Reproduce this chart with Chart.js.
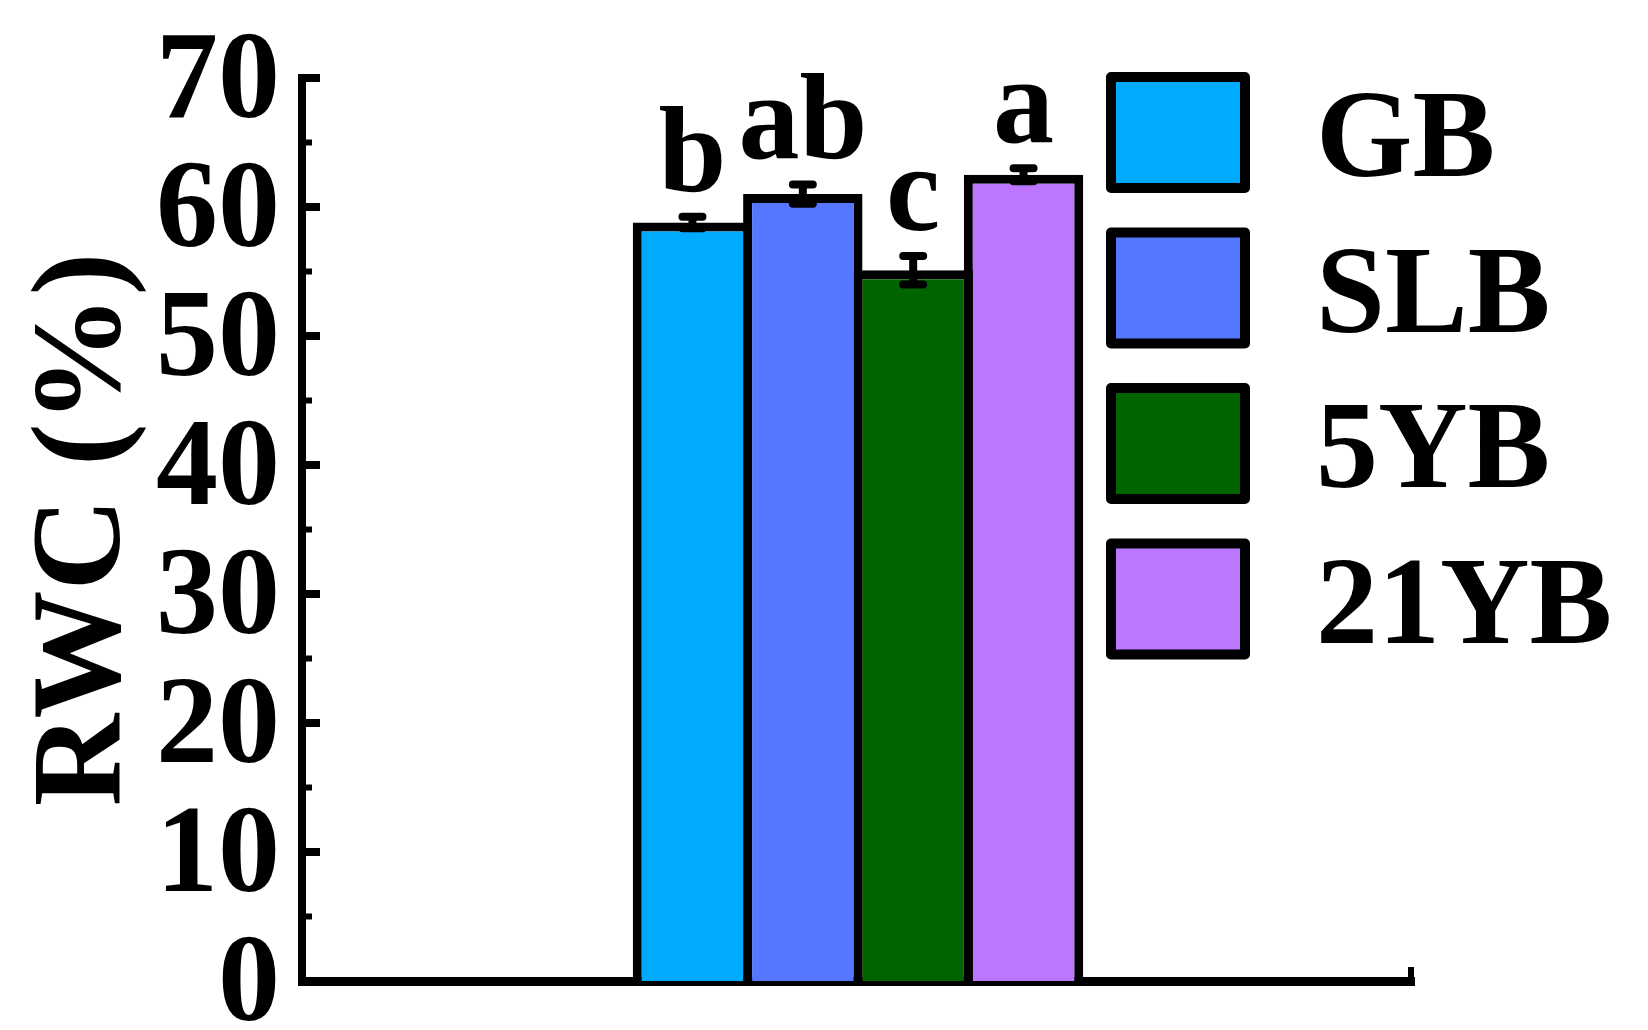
<!DOCTYPE html>
<html>
<head>
<meta charset="utf-8">
<script src="https://cdn.jsdelivr.net/npm/chart.js@4.4.1/dist/chart.umd.min.js"></script>
<style>
  html, body { margin: 0; padding: 0; background: #fff; overflow: hidden; }
  body { font-family: 'Liberation Serif'; font-weight: bold; }
  #wrap { width: 1648px; height: 1030px; position: relative; }
  #overlay { position: absolute; left: 0; top: 0; pointer-events: none; z-index: 1; }
</style>
</head>
<body>
<div id="wrap">
  <canvas id="rwcChart"></canvas>
  <svg id="overlay" width="1648" height="1030" xmlns="http://www.w3.org/2000/svg"></svg>
</div>
<script>
// data
const categories = [''];
const groups = ['GB', 'SLB', '5YB', '21YB'];
const rwcMean = [58.8, 61.0, 55.1, 62.5];
const rwcErr = [0.45, 0.75, 1.1, 0.5];
const sigLetters = ['b', 'ab', 'c', 'a'];
const barColors = ['#00aaff', '#5577ff', '#006400', '#bb77ff'];
const yMin = 0, yMax = 70, yStep = 10;
const yTitle = 'RWC (%)';

const SVGNS = 'http://www.w3.org/2000/svg';
const overlay = document.getElementById('overlay');

// big serif text goes in an svg layer, canvas drops Liberation Serif at large sizes here
function svgText(txt, x, y, size, anchor, rot) {
  const t = document.createElementNS(SVGNS, 'text');
  t.setAttribute('x', x);
  t.setAttribute('y', y);
  t.setAttribute('font-family', 'Liberation Serif');
  t.setAttribute('font-weight', 'bold');
  t.setAttribute('font-size', size);
  t.setAttribute('fill', '#000');
  t.setAttribute('text-anchor', anchor);
  if (rot) t.setAttribute('transform', 'rotate(' + rot + ' ' + x + ' ' + y + ')');
  t.textContent = txt;
  overlay.appendChild(t);
}

// error bars
const errorBars = {
  id: 'errorBars',
  afterDatasetsDraw(chart) {
    const ctx = chart.ctx;
    const y = chart.scales.y;
    ctx.save();
    chart.data.datasets.forEach((ds, i) => {
      const x = chart.getDatasetMeta(i).data[0].x;
      const top = y.getPixelForValue(rwcMean[i] + rwcErr[i]);
      const bot = y.getPixelForValue(rwcMean[i] - rwcErr[i]);
      ctx.strokeStyle = '#000';
      ctx.lineWidth = 8;
      ctx.lineCap = 'round';
      ctx.beginPath();
      ctx.moveTo(x, top); ctx.lineTo(x, bot);
      ctx.moveTo(x - 10, top); ctx.lineTo(x + 10, top);
      ctx.moveTo(x - 10, bot); ctx.lineTo(x + 10, bot);
      ctx.stroke();
    });
    ctx.restore();
  }
};

// inward tick marks on the y axis, small nub at the x axis end, legend boxes
const axisDecor = {
  id: 'axisDecor',
  afterDraw(chart) {
    const ctx = chart.ctx;
    const y = chart.scales.y;
    const area = chart.chartArea;
    ctx.save();
    ctx.strokeStyle = '#000';
    for (let v = yMin + yStep / 2; v <= yMax; v += yStep / 2) {
      const major = v % yStep === 0;
      const py = y.getPixelForValue(v);
      ctx.lineWidth = major ? 8 : 6;
      ctx.beginPath();
      ctx.moveTo(area.left, py);
      ctx.lineTo(area.left + (major ? 18 : 10), py);
      ctx.stroke();
    }
    ctx.lineWidth = 6;
    ctx.beginPath();
    ctx.moveTo(area.right - 3, area.bottom);
    ctx.lineTo(area.right - 3, area.bottom - 14);
    ctx.stroke();

    chart.data.datasets.forEach((ds, i) => {
      const bx = 1106, by = 72 + i * 155.5, bw = 144, bh = 121;
      ctx.fillStyle = ds.backgroundColor;
      ctx.fillRect(bx + 5, by + 5, bw - 10, bh - 10);
      ctx.strokeStyle = '#000';
      ctx.lineWidth = 10;
      ctx.lineJoin = 'round';
      ctx.strokeRect(bx + 5, by + 5, bw - 10, bh - 10);
    });
    ctx.restore();
  }
};

// tick labels, axis title, letters and legend text
const textLayer = {
  id: 'textLayer',
  afterDraw(chart) {
    while (overlay.firstChild) overlay.removeChild(overlay.firstChild);
    const y = chart.scales.y;
    const area = chart.chartArea;

    y.ticks.forEach((t) => {
      const py = y.getPixelForValue(t.value);
      svgText(String(t.value), area.left - 22, py + 39, 124, 'end');
    });

    svgText(yTitle, 119, (area.top + area.bottom) / 2, 128, 'middle', -90);

    chart.data.datasets.forEach((ds, i) => {
      const x = chart.getDatasetMeta(i).data[0].x;
      const top = y.getPixelForValue(rwcMean[i] + rwcErr[i]);
      svgText(sigLetters[i], x, top - 26, 122, 'middle');
      svgText(ds.label, 1316, 72 + i * 155.5 + 104, 124, 'start');
    });
  }
};

const chart = new Chart(document.getElementById('rwcChart'), {
  type: 'bar',
  data: {
    labels: categories,
    datasets: groups.map((g, i) => ({
      label: g,
      data: [rwcMean[i]],
      backgroundColor: barColors[i],
      borderColor: '#000',
      borderWidth: 9,
      categoryPercentage: 0.397,
      barPercentage: 1.082
    }))
  },
  options: {
    responsive: true,
    maintainAspectRatio: false,
    animation: false,
    layout: { padding: { top: 78, bottom: 49, left: 0, right: 234 } },
    plugins: {
      legend: { display: false },
      tooltip: { enabled: false }
    },
    scales: {
      x: {
        grid: { display: false, drawTicks: false },
        ticks: { display: false },
        border: { display: true, color: '#000', width: 9 },
        afterFit: (s) => { s.height = 0; }
      },
      y: {
        min: yMin,
        max: yMax,
        grid: { display: false, drawTicks: false },
        border: { display: true, color: '#000', width: 8 },
        ticks: { stepSize: yStep, autoSkip: false, display: false },
        title: { display: false, text: yTitle },
        afterFit: (s) => {
          s.width = 302;
          s.paddingTop = 0;
          s.paddingBottom = 0;
        }
      }
    }
  },
  plugins: [errorBars, axisDecor, textLayer]
});
</script>
</body>
</html>
